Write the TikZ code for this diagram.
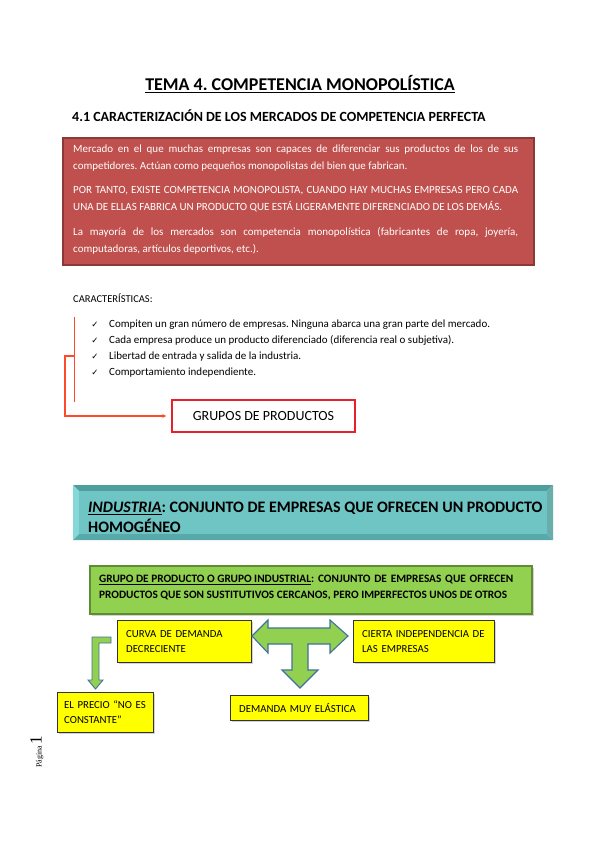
\documentclass[tikz,border=0pt]{standalone}
\usepackage{fontspec}
\setmainfont{Carlito}
\newfontfamily\symfont{DejaVu Sans}
\newfontfamily\pagfont{Liberation Serif}
\usepackage{tikz}
\usetikzlibrary{arrows.meta,shadows}
\definecolor{bred}{HTML}{C0504D}
\definecolor{bredd}{HTML}{8C3836}
\definecolor{lred}{HTML}{FF4A2A}
\definecolor{gred}{HTML}{E8202A}
\definecolor{teal}{HTML}{6FC4C4}
\definecolor{teald}{HTML}{4E9E9E}
\definecolor{tealx}{HTML}{86D8D8}
\definecolor{lgreen}{HTML}{92D050}
\definecolor{dgreen}{HTML}{5E8C34}
\definecolor{ayel}{HTML}{FFFF00}
\definecolor{abord}{HTML}{41719C}
\newcommand{\fillline}[2]{\makebox[#1][s]{#2}}
\frenchspacing

\begin{document}
\begin{tikzpicture}[x=1pt,y=-1pt,
  redtxt/.style={anchor=west,align=left,text=white,inner sep=0pt,
                 font=\fontsize{11}{16.5}\selectfont},
  chk/.style={anchor=base,inner sep=0pt,font=\symfont\fontsize{8.5}{8.5}\selectfont},
  item/.style={anchor=base west,inner sep=0pt,font=\fontsize{11}{12}\selectfont},
  grbox/.style={draw=gred,line width=1.6pt,fill=white,minimum width=183pt,
                minimum height=32pt,font=\fontsize{14}{14}\selectfont},
  ybox/.style={draw=black!80,fill=ayel,anchor=north west,align=left,inner sep=0pt,
               inner xsep=9pt,drop shadow={shadow xshift=2pt,shadow yshift=-2pt,opacity=0.35},
               font=\fontsize{10.8}{15}\selectfont},
  brk/.style={draw=lred,line width=1.3pt},
  blk/.style={draw=abord,line width=1.1pt,fill=lgreen,line join=miter}]

\useasboundingbox (0,0) rectangle (600,848);

% ---- headings -------------------------------------------------------------
\node[font=\bfseries\fontsize{18}{18}\selectfont] (title) at (300,84)
  {\underline{TEMA 4. COMPETENCIA MONOPOLÍSTICA}};
\node[anchor=west,inner sep=0pt,font=\bfseries\fontsize{14}{14}\selectfont] (sub) at (72,116)
  {4.1 CARACTERIZACIÓN DE LOS MERCADOS DE COMPETENCIA PERFECTA};

% ---- red definition box ---------------------------------------------------
\draw[draw=bredd,line width=1.2pt,fill=bred] (63,138) rectangle (534,265);
\node[redtxt] (def1) at (73,158)
  {\fillline{445pt}{Mercado en el que muchas empresas son capaces de diferenciar sus productos de los de sus}\\
   competidores. Actúan como pequeños monopolistas del bien que fabrican.};
\node[redtxt] (def2) at (73,199)
  {\fillline{445pt}{POR TANTO, EXISTE COMPETENCIA MONOPOLISTA, CUANDO HAY MUCHAS EMPRESAS PERO CADA}\\
   UNA DE ELLAS FABRICA UN PRODUCTO QUE ESTÁ LIGERAMENTE DIFERENCIADO DE LOS DEMÁS.};
\node[redtxt] (def3) at (73,241)
  {\fillline{445pt}{La mayoría de los mercados son competencia monopolística (fabricantes de ropa, joyería,}\\
   computadoras, artículos deportivos, etc.).};

% ---- characteristics list -------------------------------------------------
\node[anchor=west,inner sep=0pt,font=\fontsize{10.5}{10.5}\selectfont] (carac) at (73,298)
  {CARACTERÍSTICAS:};
\foreach \i/\yy/\txt in {1/327/{Compiten un gran número de empresas. Ninguna abarca una gran parte del mercado.},
                         2/343/{Cada empresa produce un producto diferenciado (diferencia real o subjetiva).},
                         3/359/{Libertad de entrada y salida de la industria.},
                         4/375/{Comportamiento independiente.}}{
  \node[chk]  (chk\i)  at (95,\yy) {✓};
  \node[item] (item\i) at (109,\yy) {\txt};
}

% bracket leading to the product groups
\node[grbox] (grupos) at (263.5,416) {GRUPOS DE PRODUCTOS};
\coordinate (brtop) at (74.5,317);
\coordinate (brbot) at (74.5,402);
\coordinate (brmid) at (74.5,356);
\draw[brk] (brtop) -- (brbot);
\draw[brk,-{Stealth[length=4pt,width=4pt]},shorten >=5pt] (brmid) -- ++(-9.5,0) |- (grupos.west);

% ---- industry banner ------------------------------------------------------
\fill[teald] (73,485) -- (553,485) -- (547,491) -- (79,491) -- cycle;
\fill[tealx] (73,485) -- (79,491) -- (79,534) -- (73,540) -- cycle;
\fill[teald!85] (553,485) -- (553,540) -- (547,534) -- (547,491) -- cycle;
\fill[teald!70!teal] (73,540) -- (553,540) -- (547,534) -- (79,534) -- cycle;
\fill[teal] (79,491) rectangle (547,534);
\node[anchor=west,align=left,inner sep=0pt,font=\bfseries\fontsize{16}{20}\selectfont] (indus) at (88,517)
  {\underline{\textit{INDUSTRIA}}: CONJUNTO DE EMPRESAS QUE OFRECEN UN PRODUCTO\\ HOMOGÉNEO};

% ---- product group box ----------------------------------------------------
\draw[draw=dgreen,line width=1.2pt,fill=lgreen,
      drop shadow={shadow xshift=2pt,shadow yshift=-2pt,opacity=0.35}] (90,566) rectangle (532,614);
\node[anchor=west,align=left,inner sep=0pt,font=\bfseries\fontsize{11.3}{16}\selectfont] (grupo) at (99,588)
  {\fillline{414pt}{\underline{GRUPO DE PRODUCTO O GRUPO INDUSTRIAL}: CONJUNTO DE EMPRESAS QUE OFRECEN}\\
   PRODUCTOS QUE SON SUSTITUTIVOS CERCANOS, PERO IMPERFECTOS UNOS DE OTROS};

% ---- consequences ---------------------------------------------------------
\node[ybox,minimum width=134pt,minimum height=42pt,text width=116pt] (curva) at (117,620)
  {CURVA DE DEMANDA\\ DECRECIENTE};
\node[ybox,minimum width=141pt,minimum height=42pt,text width=123pt] (indep) at (353,620)
  {CIERTA INDEPENDENCIA DE\\ LAS EMPRESAS};
\node[ybox,minimum width=96pt,minimum height=40pt,text width=88pt,inner xsep=4pt] (precio) at (57,692)
  {\hspace*{3pt}EL PRECIO “NO ES\\ \hspace*{3pt}CONSTANTE”};
\node[ybox,minimum width=138pt,minimum height=25pt,text width=120pt] (elast) at (230,695)
  {DEMANDA MUY ELÁSTICA};

% three-way block arrow
\draw[blk] (252,636) -- (268,620) -- (268,628) -- (330,628) -- (330,620) -- (348,636)
  -- (330,653) -- (330,644) -- (308,644) -- (308,670) -- (318,670) -- (300,688)
  -- (282,670) -- (292,670) -- (292,644) -- (268,644) -- (268,653) -- cycle;
% bent block arrow
\draw[blk,line width=0.9pt] (111,637) -- (92,637) -- (92,680) -- (88,680) -- (95.5,689)
  -- (103,680) -- (99,680) -- (99,643) -- (111,643) -- cycle;

% ---- page mark ------------------------------------------------------------
\node[rotate=90,inner sep=0pt,font=\pagfont] (pag) at (37,752)
  {{\fontsize{8}{8}\selectfont Página}\,{\fontsize{17}{17}\selectfont 1}};
\end{tikzpicture}
\end{document}
